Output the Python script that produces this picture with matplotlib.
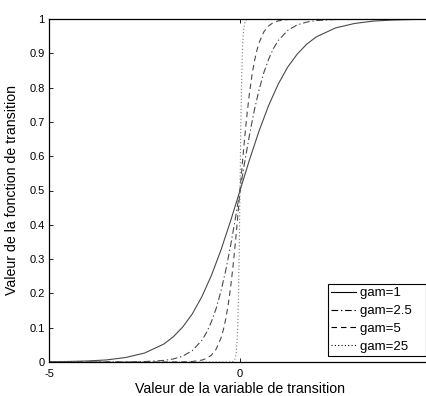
import matplotlib
matplotlib.use("Agg")
import matplotlib.pyplot as plt

# ---- data ----
x_gam1 = [-5, -4.5, -4, -3.5, -3, -2.5, -2, -1.75, -1.5, -1.25, -1, -0.75, -0.5, -0.25, 0,
          0.25, 0.5, 0.75, 1, 1.25, 1.5, 1.75, 2, 2.5, 3, 3.5, 4, 4.5, 5]
y_gam1 = [0.0007, 0.0015, 0.003, 0.006, 0.013, 0.026, 0.052, 0.073, 0.102, 0.140, 0.190, 0.252, 0.326, 0.410, 0.5,
          0.590, 0.674, 0.748, 0.810, 0.860, 0.898, 0.927, 0.948, 0.974, 0.987, 0.994, 0.997, 0.9985, 0.9993]

x_gam2_5 = [-5, -3, -2.5, -2, -1.75, -1.5, -1.25, -1, -0.875, -0.75, -0.625, -0.5, -0.375, -0.25, -0.125, 0,
            0.125, 0.25, 0.375, 0.5, 0.625, 0.75, 0.875, 1, 1.25, 1.5, 1.75, 2, 2.5, 3, 5]
y_gam2_5 = [0.0, 0.0003, 0.0012, 0.0045, 0.0088, 0.0171, 0.033, 0.063, 0.086, 0.117, 0.156, 0.206, 0.266, 0.337, 0.416, 0.5,
            0.584, 0.663, 0.734, 0.794, 0.844, 0.883, 0.914, 0.937, 0.967, 0.983, 0.991, 0.9955, 0.9988, 0.9997, 1.0]

x_gam5 = [-5, -2, -1.5, -1.25, -1, -0.875, -0.75, -0.625, -0.5, -0.4375, -0.375, -0.3125, -0.25, -0.1875, -0.125, -0.0625, 0,
          0.0625, 0.125, 0.1875, 0.25, 0.3125, 0.375, 0.4375, 0.5, 0.625, 0.75, 0.875, 1, 1.25, 1.5, 2, 5]
y_gam5 = [0.0, 0.0, 0.0004, 0.0015, 0.0055, 0.0105, 0.0198, 0.0373, 0.0691, 0.0932, 0.1246, 0.1645, 0.2142, 0.2739, 0.3430, 0.4194, 0.5,
          0.5806, 0.6570, 0.7261, 0.7858, 0.8355, 0.8754, 0.9068, 0.9309, 0.9627, 0.9802, 0.9895, 0.9945, 0.9985, 0.9996, 1.0, 1.0]

x_gam25 = [-5, -0.3, -0.2, -0.16, -0.14, -0.12, -0.1, -0.08, -0.06, -0.04, -0.02, 0,
           0.02, 0.04, 0.06, 0.08, 0.1, 0.12, 0.14, 0.16, 0.2, 0.3, 5]
y_gam25 = [0.0, 0.0, 0.0007, 0.0031, 0.0064, 0.0131, 0.0266, 0.0531, 0.1034, 0.1915, 0.3274, 0.5,
           0.6726, 0.8085, 0.8966, 0.9469, 0.9734, 0.9869, 0.9936, 0.9969, 0.9993, 1.0, 1.0]

legend_labels = ["gam=1", "gam=2.5", "gam=5", "gam=25"]
x_ticks = [-5, 0]
y_ticks = [0, 0.1, 0.2, 0.3, 0.4, 0.5, 0.6, 0.7, 0.8, 0.9, 1]
y_ticklabels = ["0", "0.1", "0.2", "0.3", "0.4", "0.5", "0.6", "0.7", "0.8", "0.9", "1"]
x_label = "Valeur de la variable de transition"
y_label = "Valeur de la fonction de transition"

# ---- figure ----
plt.rcParams['font.family'] = ['Liberation Sans', 'DejaVu Sans']
plt.rcParams['axes.unicode_minus'] = False
W, H = 427, 396
fig = plt.figure(figsize=(W / 100, H / 100), dpi=100)
ax = fig.add_axes([49 / W, 1 - 362 / H, 382 / W, 343 / H])

col = '#4a4a4a'
ax.plot(x_gam1, y_gam1, '-', color=col, lw=0.8, label=legend_labels[0] + '   ')
ax.plot(x_gam2_5, y_gam2_5, color=col, lw=0.8, linestyle=(0, (6, 2.5, 1.2, 2.5)), label=legend_labels[1] + '   ')
ax.plot(x_gam5, y_gam5, color=col, lw=0.8, linestyle=(0, (5, 3.5)), label=legend_labels[2] + '   ')
ax.plot(x_gam25, y_gam25, color='#777777', lw=0.8, linestyle=(0, (1, 2)), label=legend_labels[3] + '   ')

ax.set_xlim(-5, 5)
ax.set_ylim(0, 1)
ax.set_xticks(x_ticks)
ax.set_yticks(y_ticks)
ax.set_yticklabels(y_ticklabels)
ax.tick_params(direction='in', top=True, right=True, length=3, width=0.6,
               labelsize=8, pad=3, colors='black')
ax.tick_params(axis='x', pad=5)
for s in ax.spines.values():
    s.set_linewidth(0.9)
    s.set_color('black')

fig.text(240 / W, 1 - 389 / H, x_label, ha='center', va='center', fontsize=10.2)
fig.text(12 / W, 1 - 190 / H, y_label, ha='center', va='center', rotation=90, fontsize=10.2)

leg = ax.legend(loc='lower right', bbox_to_anchor=(426 / W, 1 - 356 / H),
                bbox_transform=fig.transFigure, borderaxespad=0, fancybox=False,
                framealpha=1, edgecolor='black', fontsize=9.5, handlelength=1.9,
                handletextpad=0.3, labelspacing=0.42, borderpad=0.25)
leg.get_frame().set_linewidth(0.8)
for line in leg.get_lines():
    line.set_color('black')

fig.savefig('out.png', dpi=100)
